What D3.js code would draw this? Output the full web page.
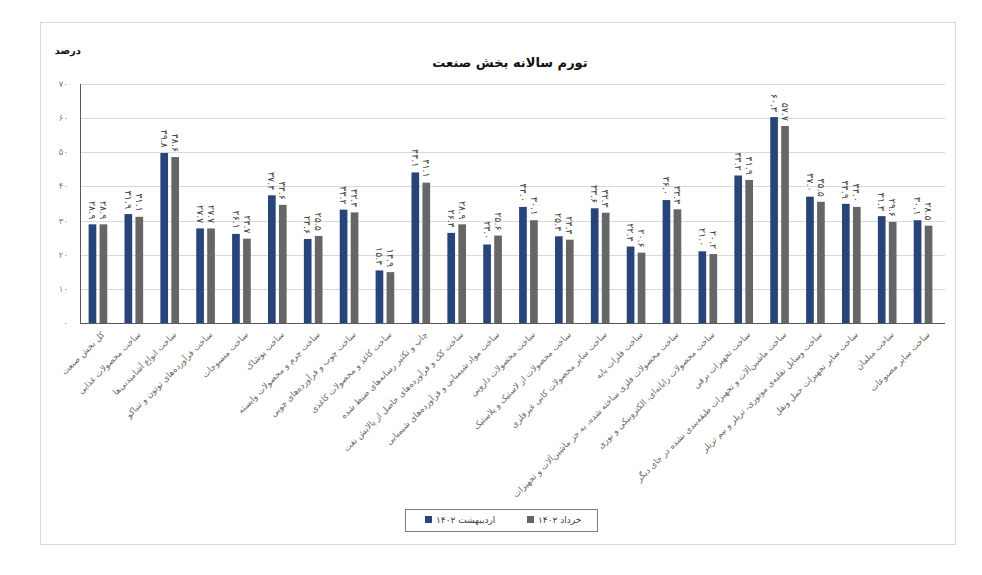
<!DOCTYPE html>
<html>
<head>
<meta charset="UTF-8">
<title>تورم سالانه بخش صنعت</title>
<style>
  body { margin: 0; background: #fff; }
  text { font-family: "DejaVu Sans", sans-serif; }
</style>
</head>
<body>
<div id="chart"></div>
<script src="https://d3js.org/d3.v7.min.js"></script>
<script>
var categories = [
    "کل بخش صنعت",
    "ساخت محصولات غذایی",
    "ساخت انواع آشامیدنی‌ها",
    "ساخت فرآورده‌های توتون و تنباکو",
    "ساخت منسوجات",
    "ساخت پوشاک",
    "ساخت چرم و محصولات وابسته",
    "ساخت چوب و فرآورده‌های چوبی",
    "ساخت کاغذ و محصولات کاغذی",
    "چاپ و تکثیر رسانه‌های ضبط شده",
    "ساخت کک و فرآورده‌های حاصل از پالایش نفت",
    "ساخت مواد شیمیایی و فرآورده‌های شیمیایی",
    "ساخت محصولات دارویی",
    "ساخت محصولات از لاستیک و پلاستیک",
    "ساخت سایر محصولات کانی غیرفلزی",
    "ساخت فلزات پایه",
    "ساخت محصولات فلزی ساخته شده، به جز ماشین‌آلات و تجهیزات",
    "ساخت محصولات رایانه‌ای، الکترونیکی و نوری",
    "ساخت تجهیزات برقی",
    "ساخت ماشین‌آلات و تجهیزات طبقه‌بندی نشده در جای دیگر",
    "ساخت وسایل نقلیه‌ی موتوری، تریلر و نیم تریلر",
    "ساخت سایر تجهیزات حمل ونقل",
    "ساخت مبلمان",
    "ساخت سایر مصنوعات"
];
var seriesNames = ["اردیبهشت ۱۴۰۲", "خرداد ۱۴۰۲"];
var ordibehesht = [28.9, 31.9, 49.8, 27.7, 26.1, 37.4, 24.6, 33.2, 15.4, 44.1, 26.4, 23.0,
                   34.0, 25.4, 33.6, 22.4, 36.0, 21.0, 43.2, 60.3, 37.0, 34.9, 31.3, 30.1];
var khordad = [28.9, 31.1, 48.6, 27.7, 24.7, 34.6, 25.5, 32.4, 14.9, 41.1, 28.9, 25.6,
               30.1, 24.4, 32.3, 20.6, 33.3, 20.2, 41.9, 57.7, 35.5, 34.0, 29.6, 28.5];
var yTicks = [0, 10, 20, 30, 40, 50, 60, 70];
var colors = ["#274579", "#666666"];

// persian digits
function fa(s) {
    return String(s).replace(/[0-9]/g, function(c) { return "۰۱۲۳۴۵۶۷۸۹"[+c]; });
}

window.onload = function() {
    var width = 982, height = 575;
    var left = 80, right = 941, top = 84, bottom = 323;

    var svg = d3.select("#chart").append("svg")
        .attr("width", width)
        .attr("height", height);

    svg.append("rect")
        .attr("x", 40.5).attr("y", 22.5)
        .attr("width", 915).attr("height", 522)
        .attr("fill", "#fff")
        .attr("stroke", "#d9d9d9");

    var data = categories.map(function(c, i) {
        return { name: c, values: [ordibehesht[i], khordad[i]] };
    });

    var x0 = d3.scaleBand()
        .domain(categories)
        .range([left, right])
        .paddingInner(0.48)
        .paddingOuter(0.24);

    var x1 = d3.scaleBand()
        .domain([0, 1])
        .range([0, x0.bandwidth()])
        .paddingInner(0.3);

    var y = d3.scaleLinear()
        .domain([0, 70])
        .range([bottom, top]);

    // gridlines
    svg.append("g")
        .selectAll("line")
        .data(yTicks.filter(function(d) { return d > 0; }))
        .join("line")
        .attr("x1", left).attr("x2", right + 4)
        .attr("y1", function(d) { return Math.round(y(d)) + 0.5; })
        .attr("y2", function(d) { return Math.round(y(d)) + 0.5; })
        .attr("stroke", "#d9d9d9")
        .attr("stroke-width", 1);

    // y tick labels
    svg.append("g")
        .selectAll("text")
        .data(yTicks)
        .join("text")
        .attr("x", 68)
        .attr("y", function(d) { return y(d); })
        .attr("dy", "0.35em")
        .attr("text-anchor", "end")
        .attr("font-size", 8.5)
        .attr("fill", "#7f7f7f")
        .text(function(d) { return fa(d); });

    // bars
    var groups = svg.append("g")
        .selectAll("g")
        .data(data)
        .join("g")
        .attr("transform", function(d) { return "translate(" + x0(d.name) + ",0)"; });

    groups.selectAll("rect")
        .data(function(d) { return d.values; })
        .join("rect")
        .attr("x", function(d, i) { return x1(i); })
        .attr("y", function(d) { return y(d); })
        .attr("width", x1.bandwidth())
        .attr("height", function(d) { return bottom - y(d); })
        .attr("fill", function(d, i) { return colors[i]; });

    // data labels (rotated, reading top to bottom)
    groups.selectAll("text")
        .data(function(d) { return d.values; })
        .join("text")
        .attr("transform", function(d, i) {
            return "translate(" + (x1(i) + x1.bandwidth() / 2) + "," + (y(d) - 5) + ") rotate(90)";
        })
        .attr("text-anchor", "end")
        .attr("dy", "0.35em")
        .attr("font-size", 9.5)
        .attr("fill", "#404040")
        .text(function(d) { return fa(d.toFixed(1)); });

    // axes lines
    svg.append("line")
        .attr("x1", left + 0.5).attr("x2", left + 0.5)
        .attr("y1", top).attr("y2", bottom)
        .attr("stroke", "#595959");
    svg.append("line")
        .attr("x1", left).attr("x2", right + 4)
        .attr("y1", bottom + 0.5).attr("y2", bottom + 0.5)
        .attr("stroke", "#595959");

    // category labels
    svg.append("g")
        .selectAll("text")
        .data(categories)
        .join("text")
        .attr("transform", function(d) {
            return "translate(" + (x0(d) + x0.bandwidth() / 2 + 5) + "," + (bottom + 10) + ") rotate(-45)";
        })
        .attr("text-anchor", "end")
        .attr("dy", "0.35em")
        .attr("font-size", 8.5)
        .attr("fill", "#666666")
        .text(function(d) { return d; });

    // title + unit
    svg.append("text")
        .attr("x", 510).attr("y", 67)
        .attr("text-anchor", "middle")
        .attr("font-size", 13)
        .attr("font-weight", "bold")
        .attr("fill", "#111")
        .text("تورم سالانه بخش صنعت");

    svg.append("text")
        .attr("x", 81).attr("y", 54)
        .attr("text-anchor", "end")
        .attr("font-size", 10)
        .attr("font-weight", "bold")
        .attr("fill", "#111")
        .text("درصد");

    // legend
    var legend = svg.append("g");
    legend.append("rect")
        .attr("x", 405.5).attr("y", 509.5)
        .attr("width", 192).attr("height", 22)
        .attr("fill", "none")
        .attr("stroke", "#7f7f7f");

    var legendX = [425, 527];
    var item = legend.selectAll("g.item")
        .data(seriesNames)
        .join("g")
        .attr("class", "item")
        .attr("transform", function(d, i) { return "translate(" + legendX[i] + ",520)"; });
    item.append("rect")
        .attr("x", 0).attr("y", -4)
        .attr("width", 7).attr("height", 7)
        .attr("fill", function(d, i) { return colors[i]; });
    item.append("text")
        .attr("x", 11).attr("y", 0)
        .attr("dy", "0.35em")
        .attr("font-size", 9)
        .attr("fill", "#404040")
        .text(function(d) { return d; });
};
</script>
</body>
</html>
